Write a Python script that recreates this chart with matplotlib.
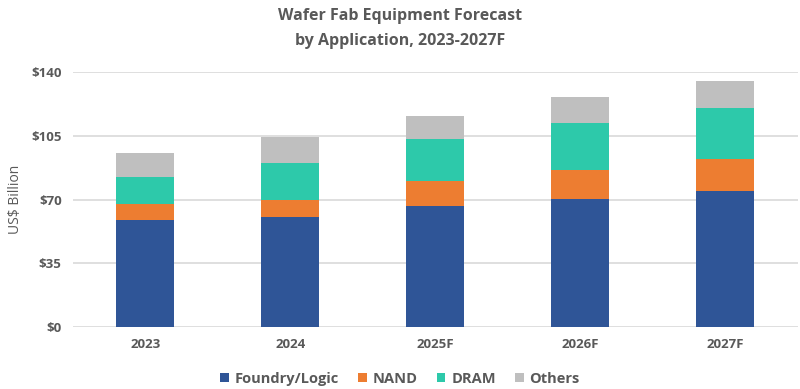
import matplotlib
matplotlib.use("Agg")
import matplotlib.pyplot as plt
import numpy as np

categories = ["2023", "2024", "2025F", "2026F", "2027F"]
series_names = ["Foundry/Logic", "NAND", "DRAM", "Others"]
foundry = [58.6, 60.2, 66.5, 70.3, 74.9]
nand = [9.2, 9.6, 13.7, 15.8, 17.2]
dram = [14.4, 20.3, 23.1, 25.9, 28.2]
others = [13.4, 14.1, 12.6, 14.3, 14.6]
yticks = [0, 35, 70, 105, 140]
ytick_labels = ["$0", "$35", "$70", "$105", "$140"]
colors = ["#2F5597", "#ED7D31", "#2DC9AA", "#BFBFBF"]

plt.rcParams['font.family'] = ['Open Sans', 'DejaVu Sans']
grey = "#595959"

fig = plt.figure(figsize=(8, 3.89), dpi=100)
ax = fig.add_axes([0.091, 0.159, 0.9065, 0.656])

x = np.arange(len(categories))
bottom = np.zeros(len(categories))
for name, vals, c in zip(series_names, [foundry, nand, dram, others], colors):
    ax.bar(x, vals, width=0.4, bottom=bottom, color=c, label=name, zorder=3)
    bottom += np.array(vals)

ax.set_xlim(-0.5, 4.5)
ax.set_ylim(0, 140)
ax.set_yticks(yticks)
ax.set_yticklabels(ytick_labels)
ax.set_xticks(x)
ax.set_xticklabels(categories)
ax.grid(axis='y', color="#D9D9D9", linewidth=1.2, zorder=0)
for s in ax.spines.values():
    s.set_visible(False)
ax.tick_params(length=0, colors=grey, labelsize=9.5, pad=8)
for lbl in ax.get_xticklabels() + ax.get_yticklabels():
    lbl.set_fontweight('bold')
ax.set_ylabel("US$ Billion", color=grey, fontsize=10, labelpad=6)

fig.suptitle("Wafer Fab Equipment Forecast\nby Application, 2023-2027F",
             x=0.5, y=0.98, color=grey, fontsize=11.5, fontweight='bold',
             linespacing=1.75)

leg = fig.legend(loc='lower center', bbox_to_anchor=(0.5, -0.025), ncol=4,
                 frameon=False, handlelength=0.6, handleheight=0.6,
                 columnspacing=1.3, handletextpad=0.4,
                 prop={'size': 10.5, 'weight': 'bold'})
for t in leg.get_texts():
    t.set_color(grey)

fig.savefig("out.png", dpi=100)
